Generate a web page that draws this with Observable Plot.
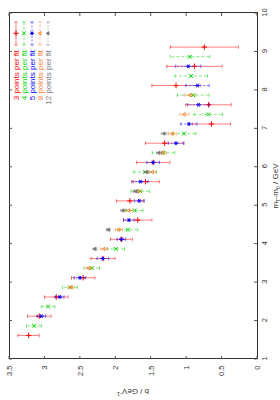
<!DOCTYPE html>
<html><head><meta charset="utf-8">
<script src="https://cdn.jsdelivr.net/npm/d3@7"></script>
<script src="https://cdn.jsdelivr.net/npm/@observablehq/plot@0.6"></script>
<style>
html,body{margin:0;padding:0;background:#fff;width:280px;height:400px;overflow:hidden}
#wrap{position:absolute;left:0;top:0;width:400px;height:280px;transform-origin:0 0;transform:translate(0px,400px) rotate(-90deg)}
</style></head><body><div id="wrap"></div>
<script>
// ---- data ----
const seriesNames = ["3 points per fit","4 points per fit","5 points per fit","8 points per fit","12 points per fit"];
const seriesColors = ["#ff0000","#00d800","#0000ff","#ff8030","#7a7a7a"];
const xTicks = [1,2,3,4,5,6,7,8,9,10];
const yTicks = [0,0.5,1,1.5,2,2.5,3,3.5];
const xTickLabels = ["1","2","3","4","5","6","7","8","9","10"];
const yTickLabels = ["0","0.5","1","1.5","2","2.5","3","3.5"];

const mRed = [1.6,2.1,2.6,3.1,3.6,4.1,4.6,5.1,5.6,6.1,6.6,7.1,7.6,8.1,8.6,9.1];
const bRed = [3.23,3.08,2.84,2.46,2.18,1.92,1.69,1.80,1.58,1.47,1.31,0.65,0.69,1.15,0.89,0.75];
const eRed = [0.15,0.165,0.165,0.165,0.17,0.155,0.20,0.19,0.195,0.235,0.27,0.27,0.32,0.34,0.39,0.48];

const mGreen = [1.85,2.35,2.85,3.35,3.85,4.35,4.85,5.35,5.85,6.35,6.85,7.35,7.85,8.35,8.85];
const bGreen = [3.155,2.955,2.643,2.34,2.0,1.83,1.733,1.655,1.585,1.326,1.037,0.695,0.907,0.935,0.953];
const eGreen = [0.104,0.096,0.106,0.11,0.123,0.141,0.116,0.13,0.16,0.158,0.165,0.2,0.223,0.229,0.281];

const mBlue = [2.1,2.6,3.1,3.6,4.1,4.6,5.1,5.6,6.1,6.6,7.1,7.6,8.1,8.6];
const bBlue = [3.05,2.79,2.506,2.182,1.921,1.815,1.668,1.651,1.472,1.15,0.968,0.832,0.847,0.976];
const eBlue = [0.059,0.059,0.082,0.082,0.061,0.075,0.071,0.106,0.089,0.11,0.113,0.153,0.165,0.177];

const mOrange = [2.85,3.35,3.85,4.35,4.85,5.35,5.85,6.35,6.85,7.35,7.85];
const bOrange = [2.63,2.379,2.167,1.955,1.814,1.686,1.483,1.338,1.201,1.034,0.952];
const eOrange = [0.042,0.042,0.047,0.05,0.056,0.05,0.056,0.056,0.056,0.064,0.082];

const mGray = [3.85,4.35,4.85,5.35,5.85,6.35,6.85];
const bGray = [2.294,2.105,1.898,1.719,1.564,1.39,1.319];
const eGray = [0.028,0.028,0.03,0.03,0.035,0.035,0.04];

// ---- styles ----
const dashes = [null,"3,2","2,1.5","3,1.5","1.5,1.5"];
const symbols = ["plus","times","asterisk","triangle2","triangle"];
const symbolFill = ["none","none","none","none","#7a7a7a"];
const symbolR = [1.9,1.9,2.0,1.6,1.2];

const series = [
  [mRed,bRed,eRed],[mGreen,bGreen,eGreen],[mBlue,bBlue,eBlue],[mOrange,bOrange,eOrange],[mGray,bGray,eGray]
].map(([m,b,e],k)=>({
  data: m.map((v,i)=>({m:v,b:b[i],e:e[i]})),
  color: seriesColors[k], dash: dashes[k], symbol: symbols[k], fill: symbolFill[k], r: symbolR[k]
}));

const capSymbol = {draw(ctx){ ctx.moveTo(-1.7,0); ctx.lineTo(1.7,0); }};

const W=400,H=280,ML=41,MR=13,MT=9,MB=23;
const marks = [];
for (const s of series) {
  marks.push(Plot.ruleX(s.data,{x:"m",y1:d=>d.b-d.e,y2:d=>d.b+d.e,stroke:s.color,strokeOpacity:0.5,strokeWidth:1,strokeDasharray:s.dash}));
  marks.push(Plot.dot(s.data,{x:"m",y:d=>d.b-d.e,symbol:capSymbol,stroke:s.color,strokeOpacity:0.55,fill:"none",strokeWidth:1}));
  marks.push(Plot.dot(s.data,{x:"m",y:d=>d.b+d.e,symbol:capSymbol,stroke:s.color,strokeOpacity:0.55,fill:"none",strokeWidth:1}));
  marks.push(Plot.dot(s.data,{x:"m",y:"b",symbol:s.symbol,r:s.r,stroke:s.color,fill:s.fill,strokeWidth:1}));
}

const plot = Plot.plot({
  width:W,height:H,marginLeft:ML,marginRight:MR,marginTop:MT,marginBottom:MB,
  style:{fontFamily:"'Liberation Sans', Arial, sans-serif",fontSize:"7.5px",background:"#fff",color:"#333"},
  x:{domain:[1,10]},
  y:{domain:[0,3.5]},
  marks:[
    ...marks,
    Plot.axisX({anchor:"bottom",ticks:xTicks,tickFormat:(d)=>xTickLabels[xTicks.indexOf(d)],tickSize:0,tickPadding:4,label:null,fill:"#333"}),
    Plot.axisY({anchor:"left",ticks:yTicks,tickFormat:(d)=>yTickLabels[yTicks.indexOf(d)],tickSize:0,tickPadding:7,label:null,fill:"#333"}),
    Plot.frame({stroke:"#333",strokeWidth:1})
  ]
});
document.getElementById("wrap").appendChild(plot);

// inward ticks on all four sides, through the plot's own scales
const svg = d3.select(plot);
const sx = plot.scale("x"), sy = plot.scale("y");
const g = svg.append("g").attr("stroke","#555").attr("stroke-width",1);
for (const t of xTicks) {
  const x = sx.apply(t);
  g.append("line").attr("x1",x).attr("x2",x).attr("y1",H-MB).attr("y2",H-MB-3);
  g.append("line").attr("x1",x).attr("x2",x).attr("y1",MT).attr("y2",MT+3);
}
for (const t of yTicks) {
  const y = sy.apply(t);
  g.append("line").attr("y1",y).attr("y2",y).attr("x1",ML).attr("x2",ML+3);
  g.append("line").attr("y1",y).attr("y2",y).attr("x1",W-MR).attr("x2",W-MR-3);
}

// axis titles
const font = "'Liberation Sans', Arial, sans-serif";
const xl = svg.append("text").attr("x",(ML+W-MR)/2).attr("y",278).attr("text-anchor","middle")
  .attr("font-family",font).attr("font-size",8).attr("fill","#333");
xl.append("tspan").text("m");
xl.append("tspan").attr("dy",1.8).attr("font-size",5.5).text("T");
xl.append("tspan").attr("dy",-1.8).text("-m");
xl.append("tspan").attr("dy",1.8).attr("font-size",5.5).text("0");
xl.append("tspan").attr("dy",-1.8).text(" / GeV");

const yl = svg.append("text").attr("transform",`translate(11,${(MT+H-MB)/2}) rotate(-90)`).attr("text-anchor","middle")
  .attr("font-family",font).attr("font-size",8).attr("fill","#333");
yl.append("tspan").text("b / GeV");
yl.append("tspan").attr("dy",-3).attr("font-size",5.5).text("-1");

// legend
const lg = svg.append("g");
seriesNames.forEach((name,i)=>{
  const y = 16 + 8*i;
  const c = seriesColors[i];
  lg.append("text").attr("x",350).attr("y",y).attr("dy","0.35em").attr("text-anchor","end")
    .attr("font-family",font).attr("font-size",8).attr("fill",c).text(name);
  lg.append("line").attr("x1",355).attr("x2",378).attr("y1",y).attr("y2",y)
    .attr("stroke",c).attr("stroke-opacity",0.5).attr("stroke-dasharray",dashes[i]);
  for (const x of [355,378]) lg.append("line").attr("x1",x).attr("x2",x).attr("y1",y-1.7).attr("y2",y+1.7).attr("stroke",c).attr("stroke-opacity",0.55);
  const typ = {plus:d3.symbolPlus,times:d3.symbolTimes,asterisk:d3.symbolAsterisk,triangle2:d3.symbolTriangle2,triangle:d3.symbolTriangle}[symbols[i]];
  lg.append("path").attr("transform",`translate(366.7,${y})`).attr("d",d3.symbol(typ,symbolR[i]*symbolR[i]*Math.PI)())
    .attr("stroke",c).attr("fill",symbolFill[i]);
});
</script></body></html>
